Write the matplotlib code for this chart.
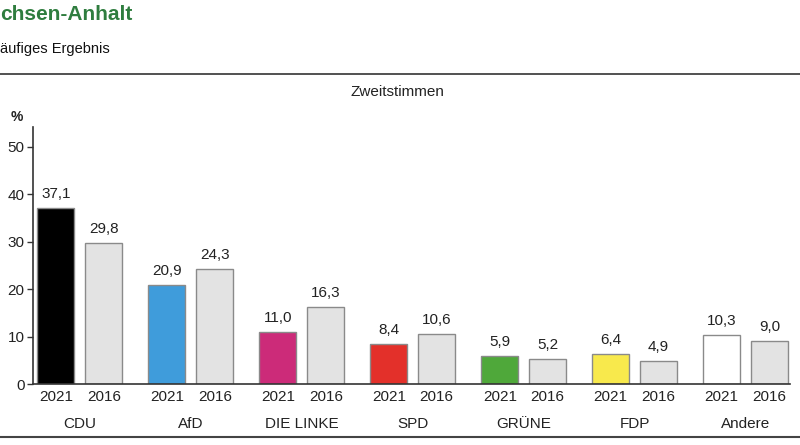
import matplotlib.pyplot as plt
import numpy as np

plt.rcParams['font.family'] = ['Liberation Sans', 'DejaVu Sans']

parties = ['CDU', 'AfD', 'DIE LINKE', 'SPD', 'GRÜNE', 'FDP', 'Andere']
votes_2021 = [37.1, 20.9, 11.0, 8.4, 5.9, 6.4, 10.3]
votes_2016 = [29.8, 24.3, 16.3, 10.6, 5.2, 4.9, 9.0]
colors_2021 = ['#000000', '#3f9cdb', '#cc2b79', '#e3302a', '#4fa83a', '#f8e94c', '#ffffff']
color_2016 = '#e3e3e3'

fig = plt.figure(figsize=(8, 4.45), dpi=100)
fig.text(0.0, 1 - 14 / 445, 'chsen-Anhalt', color='#2f7d3f', fontsize=15,
         fontweight='bold', va='center', ha='left')
fig.text(0.0, 1 - 49 / 445, 'äufiges Ergebnis', color='#111111', fontsize=10.5,
         va='center', ha='left')
fig.add_artist(plt.Line2D([0, 1], [1 - 74 / 445] * 2, color='#333333', lw=1.2))
fig.add_artist(plt.Line2D([0, 1], [1 - 437 / 445] * 2, color='#444444', lw=1.5))
fig.text(397 / 800, 1 - 92 / 445, 'Zweitstimmen', color='#222222', fontsize=11,
         ha='center', va='center')
fig.text(17 / 800, 1 - 117 / 445, '%', color='#222222', fontsize=10,
         fontweight='bold', ha='center', va='center')

ax = fig.add_axes([33 / 800, 1 - 384 / 445, 757 / 800, (384 - 127) / 445])
x = np.arange(len(parties))
off = 0.216
w = 0.333
b1 = ax.bar(x - off, votes_2021, width=w, color=colors_2021, edgecolor='#8a8a8a', lw=1)
b2 = ax.bar(x + off, votes_2016, width=w, color=color_2016, edgecolor='#8a8a8a', lw=1)
for bars, vals in ((b1, votes_2021), (b2, votes_2016)):
    for r, v in zip(bars, vals):
        ax.annotate(f'{v:.1f}'.replace('.', ','), (r.get_x() + r.get_width() / 2, v),
                    xytext=(0, 5), textcoords='offset points', ha='center', va='bottom',
                    fontsize=11, color='#222222')

ax.set_xlim(-0.423, 6.4)
ax.set_ylim(0, 54.2)
ax.set_yticks(range(0, 51, 10))
ax.tick_params(axis='y', length=4, width=1, color='#333333', labelsize=11,
               labelcolor='#222222', pad=2)
ax.set_xticks(list(x - off) + list(x + off))
ax.set_xticklabels(['2021'] * len(x) + ['2016'] * len(x))
ax.tick_params(axis='x', length=0, labelsize=11, labelcolor='#222222', pad=4)
for i, p in enumerate(parties):
    ax.text(i, -8.5, p, ha='center', va='center', fontsize=11, color='#222222')
for s in ['top', 'right']:
    ax.spines[s].set_visible(False)
for s in ['left', 'bottom']:
    ax.spines[s].set_color('#333333')
    ax.spines[s].set_linewidth(1.2)

fig.savefig('out.png', dpi=100)
